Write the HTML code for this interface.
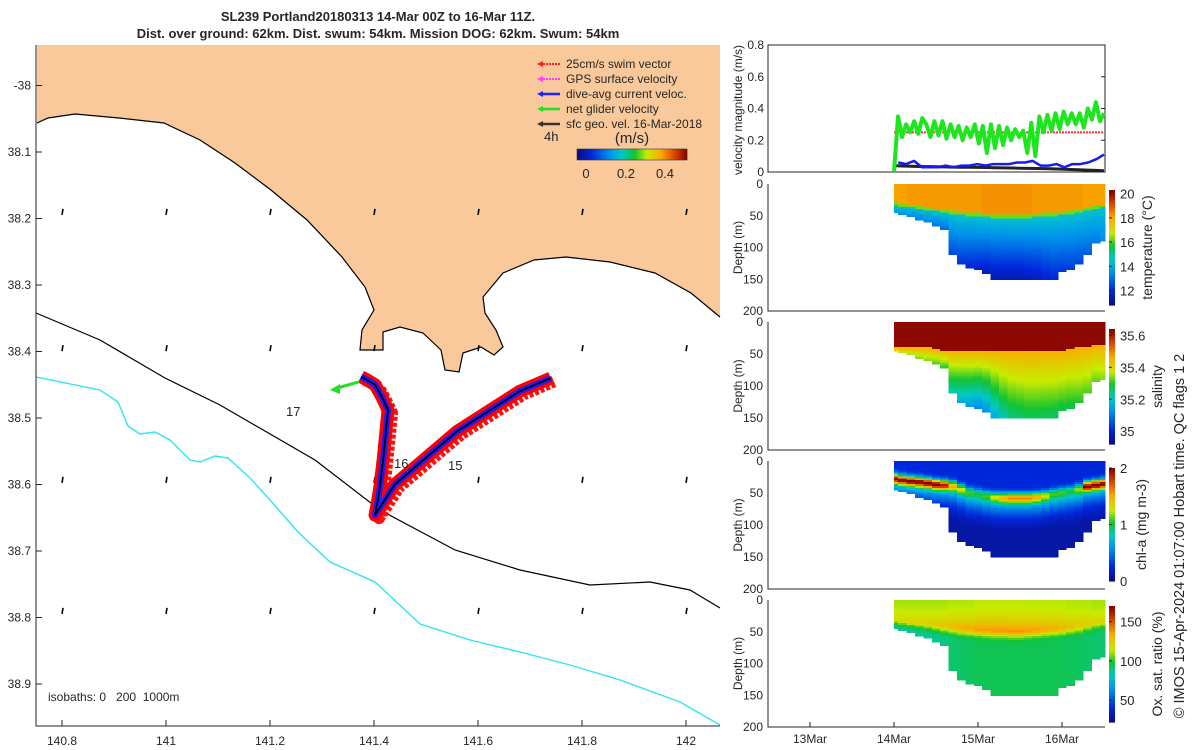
<!DOCTYPE html>
<html><head><meta charset="utf-8">
<style>
body{margin:0;background:#fff;}
svg{display:block;font-family:"Liberation Sans","DejaVu Sans",sans-serif;}
text{fill:#262626;}
</style></head>
<body>
<svg id="fig" width="1200" height="750" viewBox="0 0 1200 750" xmlns="http://www.w3.org/2000/svg">
<text x="378" y="21" text-anchor="middle" font-size="13" font-weight="bold">SL239 Portland20180313 14-Mar 00Z to 16-Mar 11Z.</text>
<text x="378" y="38" text-anchor="middle" font-size="13" font-weight="bold">Dist. over ground: 62km. Dist. swum: 54km. Mission DOG: 62km. Swum: 54km</text>
<g id="map"></g>
<g id="right"></g>
<text transform="translate(1184,536) rotate(-90)" text-anchor="middle" font-size="14.5">© IMOS 15-Apr-2024 01:07:00 Hobart time. QC flags 1  2</text>
</svg>
<script>
// ---------- data ----------
const coastX = [37,48,75,119,164,200,235,271,307,342,365,374,362,360,383,383,400,423,441,445,459,463,481,494,503,496,485,483,503,534,566,610,655,691,720];
const coastY = [123,118,114,118,123,140,163,190,220,257,287,310,330,350,350,332,327,333,350,370,372,353,347,355,347,330,313,297,273,260,257,262,273,293,317];
const iso200X = [36,100,165,220,315,380,455,520,590,650,690,720];
const iso200Y = [313,340,378,405,460,510,550,570,585,582,590,608];
const iso1000X = [36,100,118,128,140,155,170,190,200,215,228,250,270,298,330,375,420,470,520,570,620,680,720];
const iso1000Y = [377,390,402,426,434,432,440,460,462,456,458,478,500,532,562,582,624,640,652,665,680,702,725];
const trackLon = [141.375,141.385,141.402,141.415,141.427,141.423,141.418,141.412,141.406,141.402,141.44,141.5,141.56,141.62,141.68,141.74];
const trackLat = [-38.438,-38.442,-38.450,-38.468,-38.488,-38.52,-38.56,-38.6,-38.63,-38.646,-38.60,-38.56,-38.52,-38.49,-38.46,-38.440];
const gridLon = [140.8,141.0,141.2,141.4,141.6,141.8,142.0];
const gridLat = [-38.19,-38.395,-38.593,-38.79];
const lonTicks = [140.8,141,141.2,141.4,141.6,141.8,142];
const lonTickLabels = ['140.8','141','141.2','141.4','141.6','141.8','142'];
const latTicks = [-38,-38.1,-38.2,-38.3,-38.4,-38.5,-38.6,-38.7,-38.8,-38.9];
const latTickLabels = ['-38','38.1','38.2','38.3','38.4','38.5','38.6','38.7','38.8','38.9'];

const greenVel = [0,0.35,0.22,0.30,0.25,0.32,0.24,0.34,0.30,0.22,0.32,0.23,0.32,0.21,0.30,0.22,0.29,0.20,0.28,0.22,0.30,0.18,0.29,0.12,0.30,0.15,0.29,0.17,0.28,0.20,0.27,0.22,0.26,0.12,0.31,0.10,0.35,0.25,0.36,0.26,0.37,0.27,0.38,0.30,0.37,0.30,0.37,0.28,0.40,0.33,0.44,0.32,0.37];
const blueVel = [0.06,0.05,0.07,0.03,0.03,0.03,0.04,0.03,0.04,0.04,0.05,0.04,0.05,0.05,0.05,0.06,0.06,0.07,0.04,0.04,0.05,0.03,0.05,0.05,0.06,0.08,0.11];
const blackVel = [0.04,0.038,0.036,0.035,0.034,0.033,0.032,0.031,0.03,0.03,0.029,0.028,0.027,0.026,0.025,0.024,0.023,0.022,0.021,0.02,0.018,0.016,0.014,0.012,0.01,0.008];
const redVel = [0.25,0.25,0.25,0.25,0.25,0.25,0.25,0.25,0.25,0.25,0.25];
const velTicks = [0,0.2,0.4,0.6,0.8];
const velTickLabels = ['0','0.2','0.4','0.6','0.8'];
const timeTicks = [13,14,15,16];
const timeTickLabels = ['13Mar','14Mar','15Mar','16Mar'];
const depthTicks = [0,50,100,150,200];

const colTimes = [14.0,14.1,14.2,14.3,14.4,14.5,14.6,14.7,14.8,14.9,15.0,15.1,15.2,15.3,15.4,15.5,15.6,15.7,15.8,15.9,16.0,16.1,16.2,16.3,16.4,16.5];
const bottomDepth = [45,47,50,55,60,65,72,110,125,130,135,140,148,150,150,150,150,150,150,148,138,135,125,110,92,90];
const mixedDepth = [28,30,32,34,36,38,40,42,44,45,46,47,48,48,49,49,48,47,46,45,44,42,40,37,34,32];
const tempSurf = [18.1,18.1,18.2,18.2,18.2,18.2,18.2,18.2,18.2,18.2,18.2,18.3,18.3,18.3,18.3,18.3,18.3,18.2,18.2,18.2,18.2,18.2,18.2,18.1,18.1,18.1];
const tempDeep = [13.8,13.6,13.5,13.4,13.3,13.2,13.0,12.5,12.2,12.0,11.8,11.6,11.5,11.4,11.4,11.4,11.5,11.6,11.8,12.0,12.2,12.3,12.5,12.8,13.2,13.5];
const salLayer = [38,40,40,40,40,42,44,44,44,45,45,45,45,46,46,46,46,46,45,45,44,42,40,38,36,35];
const salDeep = [35.38,35.38,35.36,35.35,35.34,35.32,35.3,35.22,35.17,35.15,35.12,35.13,35.17,35.22,35.25,35.26,35.27,35.27,35.27,35.27,35.28,35.28,35.3,35.32,35.33,35.34];
const chlMax = [2,2,2,2,2,2,1.9,1.5,1.3,1.1,1.0,1.1,1.3,1.5,1.6,1.6,1.6,1.5,1.3,1.1,1.1,1.0,1.2,2,2,2];
const chlDepth = [28,30,32,33,35,37,38,40,45,50,52,55,57,58,58,58,58,57,55,52,50,48,45,40,38,36];
const oxSurf = [112,112,112,112,112,112,112,113,113,113,114,114,114,114,114,114,114,114,114,114,114,113,113,113,112,112];
const oxMax = [120,121,122,123,124,126,128,130,132,134,136,137,138,138,138,138,137,136,134,132,130,128,126,124,122,121];
const oxDeep = [85,85,86,86,87,88,90,92,93,94,95,95,95,95,95,95,95,95,95,95,95,94,94,93,92,92];

// ---------- helpers ----------
const NS='http://www.w3.org/2000/svg';
function mk(parent,tag,attrs){const e=document.createElementNS(NS,tag);for(const k in attrs)e.setAttribute(k,attrs[k]);parent.appendChild(e);return e;}
function gauss(x,w){const z=x/w;return Math.exp(-(z*z));}
const cmStops=[0,0.13,0.3,0.4,0.52,0.63,0.76,0.88,1];
const cmCols=[[10,10,130],[0,40,220],[0,150,235],[0,200,200],[20,195,50],[200,235,0],[250,170,0],[220,70,0],[130,0,0]];
function jet(v){v=Math.max(0,Math.min(1,v));
 let k=0;while(k<cmStops.length-2&&v>cmStops[k+1])k++;
 const f=(v-cmStops[k])/(cmStops[k+1]-cmStops[k]);
 const a=cmCols[k],b=cmCols[k+1];
 return 'rgb('+Math.round(a[0]+(b[0]-a[0])*f)+','+Math.round(a[1]+(b[1]-a[1])*f)+','+Math.round(a[2]+(b[2]-a[2])*f)+')';}
const lonX=lon=>62+(lon-140.8)*520;
const latY=lat=>85.5+(-38-lat)*665;
const tX=t=>810+(t-13)*84;

// ---------- map ----------
const mapG=document.getElementById('map');
const pts=coastX.map((x,i)=>x+','+coastY[i]).join(' ');
const land=mk(mapG,'polygon',{points:pts+' 720,45 37,45',fill:'#f9c99b',stroke:'none'});


const coast=mk(mapG,'polyline',{points:pts,fill:'none',stroke:'#000','stroke-width':1.2});


const i2=mk(mapG,'polyline',{points:iso200X.map((x,i)=>x+','+iso200Y[i]).join(' '),fill:'none',stroke:'#000','stroke-width':1.2});


const i3=mk(mapG,'polyline',{points:iso1000X.map((x,i)=>x+','+iso1000Y[i]).join(' '),fill:'none',stroke:'#2ee6ee','stroke-width':1.4});


gridLon.forEach(lo=>gridLat.forEach(la=>{const x=lonX(lo),y=latY(la);
 const a=mk(mapG,'line',{x1:x,y1:y+3,x2:x+1,y2:y-3,stroke:'#000','stroke-width':1.6});
 
 }));
const tp=trackLon.map((lo,i)=>lonX(lo)+','+latY(trackLat[i])).join(' ');
const tp2=trackLon.map((lo,i)=>(lonX(lo)+4)+','+(latY(trackLat[i])+3)).join(' ');
const tr2=mk(mapG,'polyline',{points:tp2,fill:'none',stroke:'#ff1010','stroke-width':12,'stroke-linejoin':'round','stroke-dasharray':'4 2'});


const tr=mk(mapG,'polyline',{points:tp,fill:'none',stroke:'#ff0000','stroke-width':13,'stroke-linejoin':'round'});


const tb=mk(mapG,'polyline',{points:tp,fill:'none',stroke:'#1a1aff','stroke-width':6,'stroke-linejoin':'round'});


const tk=mk(mapG,'polyline',{points:tp,fill:'none',stroke:'#000','stroke-width':1.6,'stroke-linejoin':'round'});


const ga=mk(mapG,'line',{x1:lonX(trackLon[0])-2,y1:latY(trackLat[0])+5,x2:334,y2:389,stroke:'#22e022','stroke-width':3});


const gh=mk(mapG,'polygon',{points:'330,390 340,384 340,394',fill:'#22e022'});


[['17',286,416],['16',394,468],['15',448,470]].forEach(d=>{const t=mk(mapG,'text',{x:d[1],y:d[2],'font-size':13});t.textContent=d[0];
 
 });
const isoT=mk(mapG,'text',{x:48,y:701,'font-size':12});isoT.textContent='isobaths: 0\u00a0\u00a0\u00a0200\u00a0\u00a01000m';


const axM=mk(mapG,'polyline',{points:'36,45 36,726 720,726',fill:'none',stroke:'#262626','stroke-width':1});


lonTicks.forEach((v,i)=>{const x=lonX(v);mk(mapG,'line',{x1:x,y1:726,x2:x,y2:720,stroke:'#262626'});
 const t=mk(mapG,'text',{x:x,y:745,'text-anchor':'middle','font-size':12});t.textContent=lonTickLabels[i];
 
 });
latTicks.forEach((v,i)=>{const y=latY(v);mk(mapG,'line',{x1:36,y1:y,x2:42,y2:y,stroke:'#262626'});
 const t=mk(mapG,'text',{x:31,y:y+4,'text-anchor':'end','font-size':12});t.textContent=latTickLabels[i];
 
 });
const legItems=[['25cm/s swim vector','#ff2020',1],['GPS surface velocity','#ff40ff',1],['dive-avg current veloc.','#2020ff',0],['net glider velocity','#22e022',0],['sfc geo. vel. 16-Mar-2018','#333',0]];
legItems.forEach((d,i)=>{const y=63+i*15;
 mk(mapG,'line',{x1:540,y1:y+1,x2:560,y2:y+1,stroke:d[1],'stroke-width':d[2]?2:2.5,'stroke-dasharray':d[2]?'2 1':'none'});
 mk(mapG,'polygon',{points:'537,'+(y+1)+' 543,'+(y-2)+' 543,'+(y+4),fill:d[1]});
 const t=mk(mapG,'text',{x:566,y:y+5,'font-size':12});t.textContent=d[0];
 
 });
const h4=mk(mapG,'text',{x:544,y:141,'font-size':13});h4.textContent='4h';


const msT=mk(mapG,'text',{x:632,y:143,'text-anchor':'middle','font-size':15});msT.textContent='(m/s)';


for(let k=0;k<110;k++){mk(mapG,'rect',{x:577+k,y:149,width:1.2,height:11,fill:jet(k/110)});}
mk(mapG,'rect',{x:577,y:149,width:110,height:11,fill:'none',stroke:'#333','stroke-width':0.6});
[['0',586],['0.2',626],['0.4',665]].forEach(d=>{const t=mk(mapG,'text',{x:d[1],y:178,'text-anchor':'middle','font-size':13});t.textContent=d[0];
 
 });

// ---------- right panels ----------
const RG=document.getElementById('right');
const PL=768,PR=1105;
function frame(top,bot,name){const f=mk(RG,'polyline',{points:PL+','+top+' '+PL+','+bot+' '+PR+','+bot,fill:'none',stroke:'#262626','stroke-width':1});
 
 }
const vT=45,vB=172;const vY=v=>vB-(v/0.8)*(vB-vT);
mk(RG,'rect',{x:PL,y:vT,width:PR-PL,height:vB-vT,fill:'none',stroke:'#262626','stroke-width':1});
velTicks.forEach((v,i)=>{const t=mk(RG,'text',{x:764,y:vY(v)+4,'text-anchor':'end','font-size':12});t.textContent=velTickLabels[i];
 
 
 mk(RG,'line',{x1:PR-4,y1:vY(v),x2:PR,y2:vY(v),stroke:'#262626'});});
function series(arr,t0,t1,color,w,name,dash){const n=arr.length;
 const p=arr.map((v,i)=>tX(t0+(t1-t0)*i/(n-1))+','+vY(v)).join(' ');
 const s=mk(RG,'polyline',{points:p,fill:'none',stroke:color,'stroke-width':w,'stroke-linejoin':'round','stroke-dasharray':dash||'none'});
 
 }
series(redVel,14.0,16.5,'#ff3030',2,'swim-speed-line','2 1');
series(blackVel,14.0,16.5,'#222',3,'geostrophic-speed-line');
series(blueVel,14.05,16.5,'#1a1aee',2.5,'current-speed-line');
series(greenVel,14.0,16.5,'#1ee61e',4,'glider-speed-line');
const vl=mk(RG,'text',{transform:'translate(742,110) rotate(-90)','text-anchor':'middle','font-size':12});vl.textContent='velocity magnitude (m/s)';



const panels=[
 {top:184,bot:311,vmin:10.8,vmax:20.3,name:'temperature',cb:[190,305],ticks:[12,14,16,18,20],label:'temperature (°C)',lx:1152,
  f:(i,d)=>{const m=mixedDepth[i];if(d<m)return tempSurf[i];if(d<m+5)return 16.3;return 14.5+(tempDeep[i]-14.5)*(d-m-5)/Math.max(1,bottomDepth[i]-m-5);}},
 {top:322,bot:450,vmin:34.92,vmax:35.64,name:'salinity',cb:[329,444],ticks:[35,35.2,35.4,35.6],label:'salinity',lx:1162,
  f:(i,d)=>d<salLayer[i]?35.63:35.46+(salDeep[i]-35.46)*(d-salLayer[i])/Math.max(1,bottomDepth[i]-salLayer[i])},
 {top:461,bot:589,vmin:0,vmax:2,name:'chlorophyll',cb:[468,581],ticks:[0,1,2],label:'chl-a (mg m-3)',lx:1146,
  f:(i,d)=>{const c=chlDepth[i];return d<c?0.25+(chlMax[i]-0.25)*gauss(d-c,8):0.1+0.65*gauss(d-c,28)+(chlMax[i]-0.75)*gauss(d-c,8);}},
 {top:600,bot:727,vmin:22,vmax:170,name:'oxygen',cb:[606,722],ticks:[50,100,150],label:'Ox. sat. ratio (%)',lx:1162,
  f:(i,d)=>{const m=mixedDepth[i];return d<m?oxSurf[i]+(oxMax[i]-oxSurf[i])*(d/m)*(d/m):oxDeep[i]+(oxMax[i]-oxDeep[i])*gauss(d-m,10);}}
];
panels.forEach(P=>{
 const g=mk(RG,'g',{'shape-rendering':'crispEdges'});
 
 
 const dY=d=>P.top+d/200*(P.bot-P.top);
 colTimes.forEach((t,i)=>{const x0=tX(Math.max(14,t-0.05)),x1=Math.min(PR,tX(t+0.05));
  for(let d=0;d<bottomDepth[i];d+=3){
   const v=P.f(i,d+1.5);
   mk(g,'rect',{x:x0,y:dY(d),width:x1-x0+0.5,height:dY(3)-dY(0)+0.5,fill:jet((v-P.vmin)/(P.vmax-P.vmin))});}});
 frame(P.top,P.bot,P.name+'-axes');
 depthTicks.forEach(v=>{const t=mk(RG,'text',{x:763,y:dY(v)+4,'text-anchor':'end','font-size':12});t.textContent=String(v);
  
  });
 const yl=mk(RG,'text',{transform:'translate(742,'+((P.top+P.bot)/2)+') rotate(-90)','text-anchor':'middle','font-size':12});yl.textContent='Depth (m)';
 
 
 const c0=P.cb[0],c1=P.cb[1];const steps=60;
 for(let k=0;k<steps;k++){mk(RG,'rect',{x:1109,y:c1-(k+1)*(c1-c0)/steps,width:6,height:(c1-c0)/steps+0.6,fill:jet((k+0.5)/steps)});}
 const cY=v=>c1-(v-P.vmin)/(P.vmax-P.vmin)*(c1-c0);
 P.ticks.forEach(v=>{mk(RG,'line',{x1:1109,y1:cY(v),x2:1112,y2:cY(v),stroke:'#262626'});
  const t=mk(RG,'text',{x:1120,y:cY(v)+5,'font-size':13});t.textContent=String(v);
  
  });
 const ct=mk(RG,'text',{transform:'translate('+P.lx+','+((c0+c1)/2)+') rotate(-90)','text-anchor':'middle','font-size':14});ct.textContent=P.label;
 
 
});
timeTicks.forEach((v,i)=>{const x=tX(v);mk(RG,'line',{x1:x,y1:727,x2:x,y2:722,stroke:'#262626'});
 const t=mk(RG,'text',{x:x,y:743,'text-anchor':'middle','font-size':12});t.textContent=timeTickLabels[i];
 
 });
</script>
</body></html>
